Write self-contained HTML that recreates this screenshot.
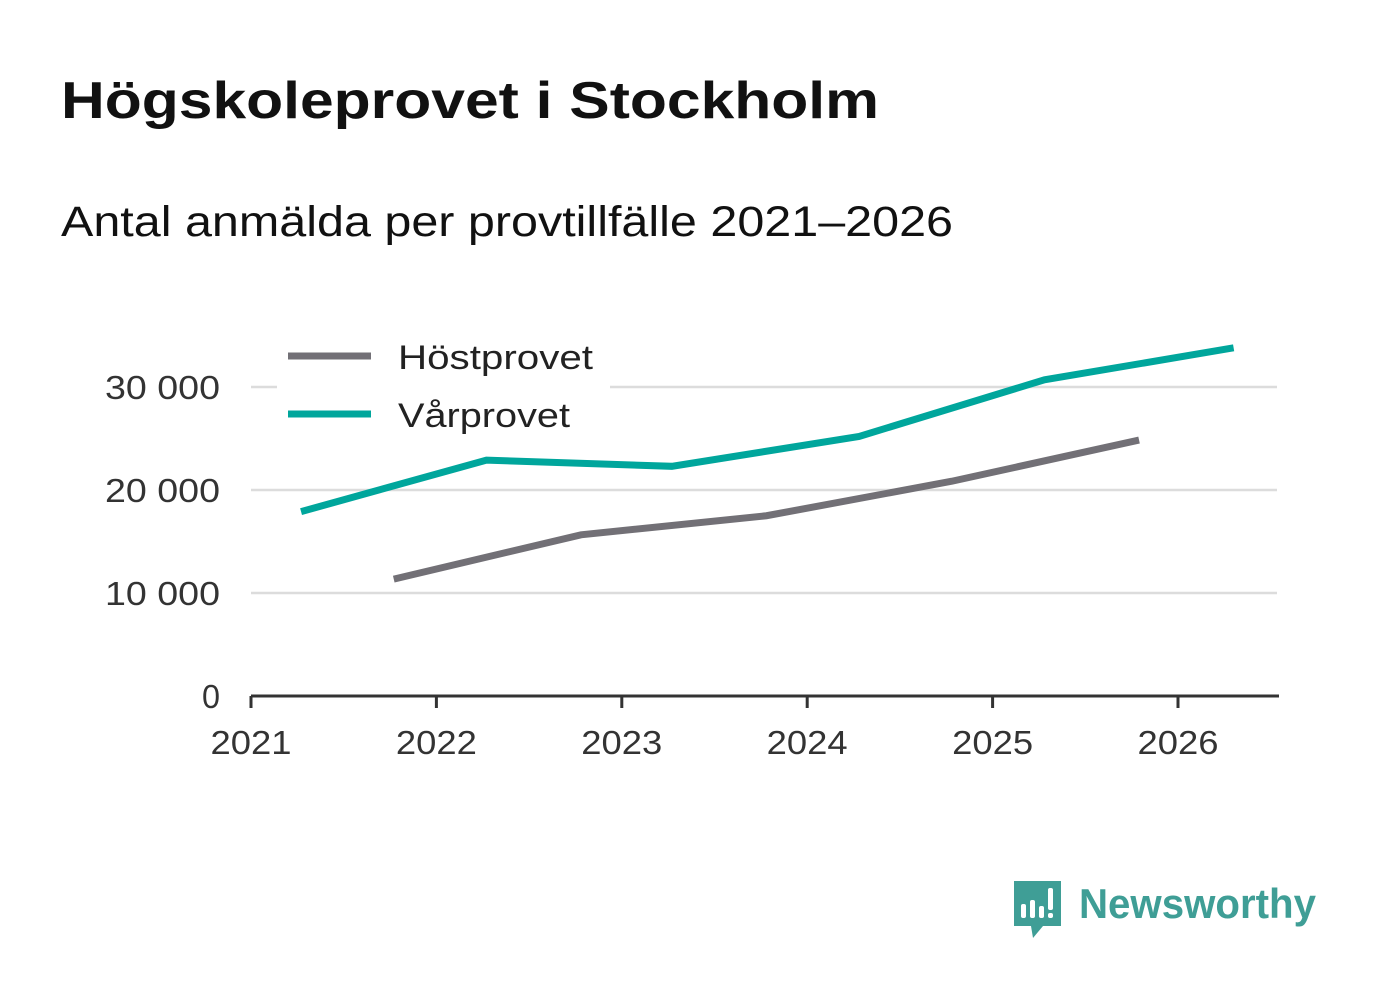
<!DOCTYPE html>
<html><head><meta charset="utf-8">
<style>
body{margin:0;background:#fff;width:1382px;height:999px;overflow:hidden;font-family:"Liberation Sans",sans-serif;}
svg{display:block}
</style></head>
<body>
<svg id="chart" width="1382" height="999">
<text x="61" y="118" font-size="52" font-weight="bold" fill="#111" textLength="818" lengthAdjust="spacingAndGlyphs">Högskoleprovet i Stockholm</text>
<text x="61" y="236" font-size="43" fill="#111" textLength="892" lengthAdjust="spacingAndGlyphs">Antal anmälda per provtillfälle 2021–2026</text>
<g id="grid"></g>
<g id="axes"></g>
<g id="lines"></g>
<g>
<rect x="277" y="328" width="333" height="112" fill="#fff"/>
<line x1="288" y1="356" x2="371" y2="356" stroke="#727076" stroke-width="7"/>
<text x="398" y="369" font-size="34" fill="#222" textLength="195" lengthAdjust="spacingAndGlyphs">Höstprovet</text>
<line x1="288" y1="414" x2="371" y2="414" stroke="#00a69c" stroke-width="7"/>
<text x="398" y="427" font-size="34" fill="#222" textLength="172" lengthAdjust="spacingAndGlyphs">Vårprovet</text>
</g>
<g>
<path d="M1014 881 h47 v45 h-18 l-10 12 l-2 -12 h-17 z" fill="#3f9e96"/>
<rect x="1021" y="904" width="5" height="14" rx="2" fill="#fff"/>
<rect x="1030" y="900" width="5" height="18" rx="2" fill="#fff"/>
<rect x="1039" y="906" width="5" height="12" rx="2" fill="#fff"/>
<rect x="1048" y="888" width="5" height="22" rx="2" fill="#fff"/>
<rect x="1048" y="913" width="5" height="5" rx="2" fill="#fff"/>
<text x="1079" y="918" font-size="42" font-weight="bold" fill="#3f9e96" textLength="237" lengthAdjust="spacingAndGlyphs">Newsworthy</text>
</g>
</svg>
<script>
const springYears=[2021.27,2022.27,2023.27,2024.28,2025.28,2026.3];
const springValues=[17900,22900,22300,25200,30700,33800];
const autumnYears=[2021.77,2022.78,2023.78,2024.78,2025.79];
const autumnValues=[11350,15650,17500,20850,24850];
const yTicks=[0,10000,20000,30000];
const yTickLabels=["0","10 000","20 000","30 000"];
const xTicks=[2021,2022,2023,2024,2025,2026];

const NS="http://www.w3.org/2000/svg";
function xs(v){return 251+(v-2021)*185.4;}
function ys(v){return 696-v*0.0103;}
function mk(tag,attrs,parent){const e=document.createElementNS(NS,tag);for(const k in attrs)e.setAttribute(k,attrs[k]);parent.appendChild(e);return e;}
const grid=document.getElementById('grid'),axes=document.getElementById('axes'),lines=document.getElementById('lines');
yTicks.forEach((t,i)=>{
 if(t>0){const g=mk('line',{x1:251,x2:1277,y1:ys(t),y2:ys(t),stroke:'#dcdcdc','stroke-width':2.5},grid);
 
 }
 const tx=mk('text',{x:220,y:ys(t)+12,'font-size':33,fill:'#333','text-anchor':'end',textLength:(t>0?115:18),lengthAdjust:'spacingAndGlyphs'},axes);
 tx.textContent=yTickLabels[i];
 
 
});
const ax=mk('line',{x1:251,x2:1279,y1:696,y2:696,stroke:'#333','stroke-width':3},axes);


xTicks.forEach(t=>{
 const tk=mk('line',{x1:xs(t),x2:xs(t),y1:696,y2:708,stroke:'#333','stroke-width':3},axes);
 
 
 const tx=mk('text',{x:xs(t),y:754,'font-size':33,fill:'#333','text-anchor':'middle',textLength:81,lengthAdjust:'spacingAndGlyphs'},axes);
 tx.textContent=t;
 
 
});
function line(xv,yv,color,name){
 const p=mk('polyline',{points:xv.map((x,i)=>xs(x)+','+ys(yv[i])).join(' '),fill:'none',stroke:color,'stroke-width':7},lines);
 
 
}
line(autumnYears,autumnValues,'#727076','line-hostprovet');
line(springYears,springValues,'#00a69c','line-varprovet');
</script>
</body></html>
